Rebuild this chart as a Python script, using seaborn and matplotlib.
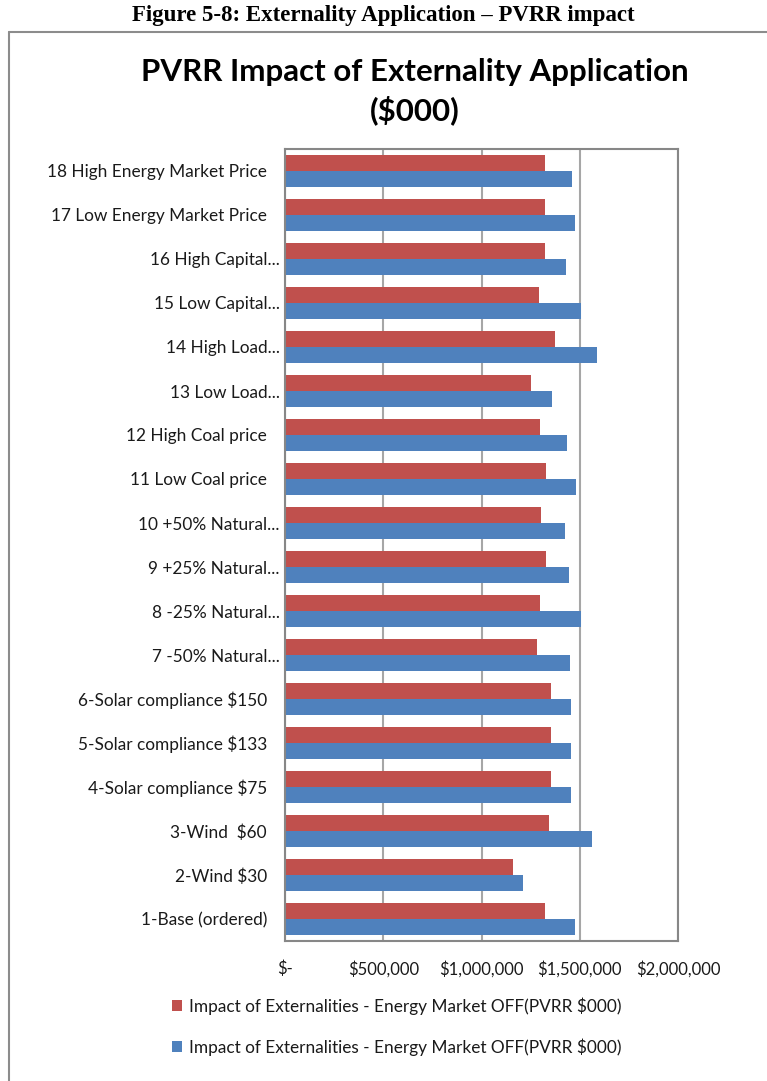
import matplotlib
matplotlib.use("Agg")
import matplotlib.pyplot as plt
import matplotlib.transforms as mtransforms
import seaborn as sns
import pandas as pd
from matplotlib.patches import Patch
from matplotlib.lines import Line2D
from matplotlib.ticker import FixedLocator

# ---- data (top to bottom as in the chart) ----
categories = [
    "18 High Energy Market Price",
    "17 Low Energy Market Price",
    "16 High Capital...",
    "15 Low Capital...",
    "14 High Load...",
    "13 Low Load...",
    "12 High Coal price",
    "11 Low Coal price",
    "10 +50% Natural...",
    "9 +25% Natural...",
    "8 -25% Natural...",
    "7 -50% Natural...",
    "6-Solar compliance $150",
    "5-Solar compliance $133",
    "4-Solar compliance $75",
    "3-Wind  $60",
    "2-Wind $30",
    "1-Base (ordered)",
]
red_values = [1324000, 1324000, 1324000, 1292000, 1375000, 1254000, 1300000, 1329000, 1305000,
              1329000, 1297000, 1281000, 1352000, 1352000, 1352000, 1342000, 1161000, 1324000]
blue_values = [1461000, 1475000, 1432000, 1507000, 1586000, 1358000, 1436000, 1483000, 1424000,
               1446000, 1507000, 1451000, 1456000, 1456000, 1456000, 1563000, 1212000, 1475000]
series_keys = ["red", "blue"]
legend_labels = ["Impact of Externalities - Energy Market OFF(PVRR $000)",
                 "Impact of Externalities - Energy Market OFF(PVRR $000)"]
xticks = [0, 500000, 1000000, 1500000, 2000000]
xtick_labels = ["$-", "$500,000", "$1,000,000", "$1,500,000", "$2,000,000"]

RED = "#C0504D"
BLUE = "#4F81BD"

df = pd.DataFrame({
    "scenario": categories * 2,
    "series": ["red"] * len(categories) + ["blue"] * len(categories),
    "value": red_values + blue_values,
})

sns.set_theme(style="white")
plt.rcParams["font.family"] = ["Lato", "DejaVu Sans"]

fig = plt.figure(figsize=(7.67, 10.81), dpi=100)
ax = fig.add_axes([285 / 767, 1 - 941 / 1081, (678 - 285) / 767, (941 - 149) / 1081])

sns.barplot(data=df, y="scenario", x="value", hue="series", order=categories,
            hue_order=series_keys, palette=[RED, BLUE], orient="h", width=0.71,
            saturation=1, linewidth=0, legend=False, ax=ax)

ax.set_xlim(0, 2000000)
ax.xaxis.set_major_locator(FixedLocator(xticks))
ax.set_xticklabels(xtick_labels, fontsize=12, color="#1a1a1a")
ax.tick_params(axis="both", length=0)
ax.tick_params(axis="x", pad=14)
ax.tick_params(axis="y", pad=13, labelsize=12.4, labelcolor="#1a1a1a")
ax.set_xlabel("")
ax.set_ylabel("")
ax.set_axisbelow(True)
ax.xaxis.grid(True, color="#A6A6A6", linewidth=1.5)
ax.yaxis.grid(False)
for sp in ax.spines.values():
    sp.set_color("#878787")
    sp.set_linewidth(1.5)
    sp.set_visible(True)

# truncated labels sit a little further right, as in the source chart
shift = mtransforms.ScaledTranslation(13 / 100, 0, fig.dpi_scale_trans)
for lab in ax.get_yticklabels():
    if lab.get_text().endswith("..."):
        lab.set_transform(lab.get_transform() + shift)

# figure header and chart title
fig.text(0.5, 1 - 15 / 1081, "Figure 5-8: Externality Application \u2013 PVRR impact",
         ha="center", va="center", fontsize=16.5, fontweight="bold", color="black",
         family=["Liberation Serif", "DejaVu Serif"])
fig.text(415 / 767, 1 - 72 / 1081, "PVRR Impact of Externality Application",
         ha="center", va="center", fontsize=22.5, fontweight="bold", color="black")
fig.text(415 / 767, 1 - 110 / 1081, "($000)",
         ha="center", va="center", fontsize=22.5, fontweight="bold", color="black")

# outer chart frame (left and top edges visible)
fig.add_artist(Line2D([8.5 / 767, 8.5 / 767], [0, 1 - 32 / 1081], transform=fig.transFigure,
                      color="#8C8C8C", linewidth=1.5))
fig.add_artist(Line2D([8.5 / 767, 1.0], [1 - 32 / 1081, 1 - 32 / 1081], transform=fig.transFigure,
                      color="#8C8C8C", linewidth=1.5))

# legend
handles = [Patch(facecolor=RED, edgecolor="none"), Patch(facecolor=BLUE, edgecolor="none")]
fig.legend(handles, legend_labels, loc="upper left",
           bbox_to_anchor=(156 / 767, 1 - 982 / 1081), frameon=False, fontsize=12.4,
           handlelength=0.6, handleheight=0.6, handletextpad=0.4, labelspacing=1.35,
           labelcolor="#1a1a1a")

fig.savefig("out.png", dpi=100)
